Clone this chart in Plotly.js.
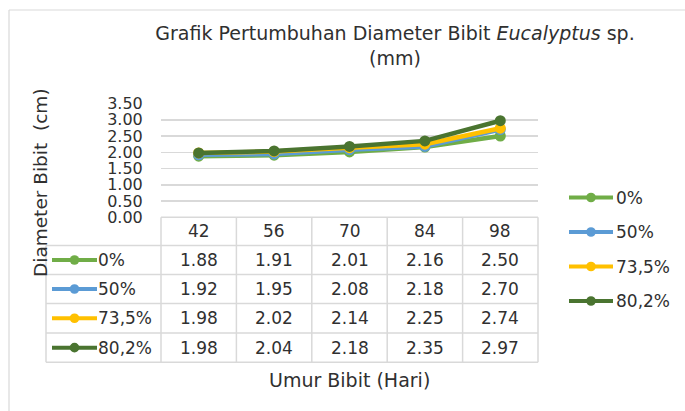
<!DOCTYPE html>
<html>
<head>
<meta charset="utf-8">
<script src="https://cdn.plot.ly/plotly-3.0.1.min.js"></script>
<style>html,body{margin:0;padding:0;background:#fff;}</style>
</head>
<body>
<div id="chart" style="width:685px;height:411px;"></div>
<script>
// ---- data ----
const categories = ['42', '56', '70', '84', '98'];
const seriesNames = ['0%', '50%', '73,5%', '80,2%'];
const values0 = [1.88, 1.91, 2.01, 2.16, 2.50];
const values50 = [1.92, 1.95, 2.08, 2.18, 2.70];
const values735 = [1.98, 2.02, 2.14, 2.25, 2.74];
const values802 = [1.98, 2.04, 2.18, 2.35, 2.97];
const yTickValues = [0, 0.5, 1, 1.5, 2, 2.5, 3, 3.5];

const seriesValues = [values0, values50, values735, values802];
const colors = ['#70AD47', '#5B9BD5', '#FFC000', '#4A7430'];

// ---- geometry helpers (pixels -> paper) ----
const W = 685, H = 411;
const fx = p => p / W;
const fy = p => 1 - p / H;
const FONT = 'DejaVu Sans';
const TXT = '#303030';
const GRID = '#d9d9d9';

const plotL = 161, plotR = 538, plotTop = 103.5, plotBot = 217.3;
const colW = (plotR - plotL) / categories.length;
const rowEdges = [217.3, 245.5, 274.5, 303.5, 333, 362.3];
const legColL = 46;

const traces = seriesValues.map((vals, i) => ({
  type: 'scatter',
  mode: 'lines+markers',
  x: categories,
  y: vals,
  name: seriesNames[i],
  line: {color: colors[i], width: 4.5},
  marker: {color: colors[i], size: 11},
  cliponaxis: false,
  showlegend: false,
  hoverinfo: 'x+y+name'
}));

const shapes = [];
const annotations = [];

// outer chart border (top and left visible)
shapes.push({type: 'line', xref: 'paper', yref: 'paper', x0: fx(9), x1: 1, y0: fy(10), y1: fy(10), line: {color: GRID, width: 1.2}});
shapes.push({type: 'line', xref: 'paper', yref: 'paper', x0: fx(9), x1: fx(9), y0: fy(10), y1: 0, line: {color: GRID, width: 1.2}});

// data table grid
const gl = {color: GRID, width: 1.5};
shapes.push({type: 'line', xref: 'paper', yref: 'paper', x0: fx(plotL), x1: fx(plotR), y0: fy(rowEdges[0]), y1: fy(rowEdges[0]), line: gl});
for (let r = 1; r < rowEdges.length; r++) {
  shapes.push({type: 'line', xref: 'paper', yref: 'paper', x0: fx(legColL), x1: fx(plotR), y0: fy(rowEdges[r]), y1: fy(rowEdges[r]), line: gl});
}
for (let c = 0; c <= categories.length; c++) {
  const px = plotL + c * colW;
  shapes.push({type: 'line', xref: 'paper', yref: 'paper', x0: fx(px), x1: fx(px), y0: fy(rowEdges[0]), y1: fy(rowEdges[rowEdges.length - 1]), line: gl});
}
shapes.push({type: 'line', xref: 'paper', yref: 'paper', x0: fx(legColL), x1: fx(legColL), y0: fy(rowEdges[1]), y1: fy(rowEdges[rowEdges.length - 1]), line: gl});

// header cells (x = category index on the category axis)
const rowCenter = r => (rowEdges[r] + rowEdges[r + 1]) / 2;
categories.forEach((c, j) => {
  annotations.push({xref: 'x', yref: 'paper', x: j, y: fy(rowCenter(0)), text: c, showarrow: false,
    xanchor: 'center', yanchor: 'middle', font: {family: FONT, size: 17, color: TXT}});
});
// value cells and legend keys in table
function legendKey(lx0, lx1, yc, color) {
  shapes.push({type: 'line', xref: 'paper', yref: 'paper', x0: fx(lx0), x1: fx(lx1), y0: fy(yc), y1: fy(yc), line: {color: color, width: 4}});
  const mx = (lx0 + lx1) / 2, r = 4.8;
  shapes.push({type: 'circle', xref: 'paper', yref: 'paper', x0: fx(mx - r), x1: fx(mx + r), y0: fy(yc + r), y1: fy(yc - r), fillcolor: color, line: {width: 0}});
}
seriesValues.forEach((vals, i) => {
  const yc = rowCenter(i + 1);
  vals.forEach((v, j) => {
    annotations.push({xref: 'x', yref: 'paper', x: j, y: fy(yc), text: v.toFixed(2), showarrow: false,
      xanchor: 'center', yanchor: 'middle', font: {family: FONT, size: 17, color: TXT}});
  });
  legendKey(52, 97, yc, colors[i]);
  annotations.push({xref: 'paper', yref: 'paper', x: fx(96), y: fy(yc), text: seriesNames[i], showarrow: false,
    xanchor: 'left', yanchor: 'middle', font: {family: FONT, size: 17, color: TXT}});
});

// right-hand legend
const legendRows = [197.5, 232, 266.5, 301];
seriesNames.forEach((n, i) => {
  legendKey(569, 613, legendRows[i], colors[i]);
  annotations.push({xref: 'paper', yref: 'paper', x: fx(614), y: fy(legendRows[i]), text: n, showarrow: false,
    xanchor: 'left', yanchor: 'middle', font: {family: FONT, size: 17, color: TXT}});
});

// axis titles
annotations.push({xref: 'paper', yref: 'paper', x: fx(40), y: fy(183), text: 'Diameter Bibit\u00A0 (cm)', textangle: -90,
  showarrow: false, xanchor: 'center', yanchor: 'middle', font: {family: FONT, size: 18.5, color: TXT}});
annotations.push({xref: 'paper', yref: 'paper', x: fx(349), y: fy(380), text: 'Umur Bibit (Hari)',
  showarrow: false, xanchor: 'center', yanchor: 'middle', font: {family: FONT, size: 19, color: TXT}});

const layout = {
  width: W, height: H, autosize: false,
  margin: {l: 0, r: 0, t: 0, b: 0, pad: 0},
  paper_bgcolor: '#ffffff', plot_bgcolor: 'rgba(0,0,0,0)',
  font: {family: FONT, color: TXT},
  showlegend: false,
  title: {
    text: 'Grafik Pertumbuhan Diameter Bibit <i>Eucalyptus</i> sp.<br>(mm)',
    x: fx(395), xref: 'paper', xanchor: 'center',
    y: fy(40), yref: 'paper', yanchor: 'middle',
    font: {family: FONT, size: 19, color: TXT}
  },
  xaxis: {
    domain: [fx(plotL), fx(plotR)], type: 'category', categoryorder: 'array', categoryarray: categories,
    range: [-0.5, categories.length - 0.5], showticklabels: false, showgrid: false, zeroline: false,
    showline: false, ticks: '', fixedrange: true
  },
  yaxis: {
    domain: [fy(plotBot), fy(plotTop)], range: [0, 3.5], tickmode: 'array',
    tickvals: yTickValues, ticktext: yTickValues.map(v => v.toFixed(2)),
    showgrid: true, gridcolor: GRID, gridwidth: 1.5, zeroline: false, showline: false,
    ticks: 'outside', ticklen: 14, tickcolor: 'rgba(0,0,0,0)',
    tickfont: {family: FONT, size: 16, color: TXT}, fixedrange: true
  },
  shapes: shapes,
  annotations: annotations
};

Plotly.newPlot('chart', traces, layout, {displayModeBar: false, staticPlot: true});
</script>
</body>
</html>
